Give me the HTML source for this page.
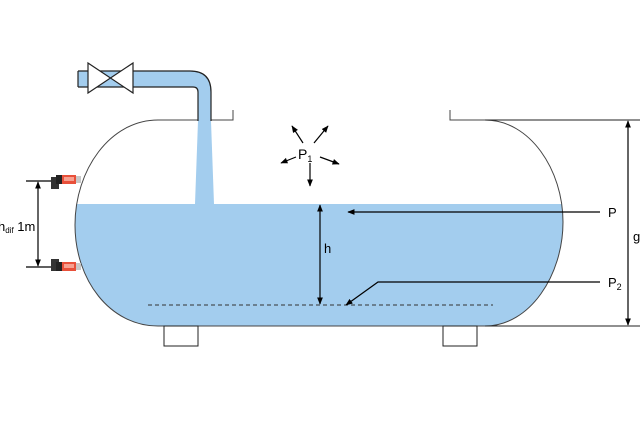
<!DOCTYPE html>
<html><head><meta charset="utf-8"><style>html,body{margin:0;padding:0;background:#fff}svg{display:block}</style></head>
<body>
<svg width="640" height="427" viewBox="0 0 640 427" xmlns="http://www.w3.org/2000/svg" font-family="'Liberation Sans',sans-serif">
<defs>
<marker id="a" viewBox="0 0 10 10" refX="9" refY="5" markerWidth="6" markerHeight="6" orient="auto-start-reverse"><path d="M0,1 L10,5 L0,9 z" fill="#000"/></marker>
<clipPath id="tk"><path d="M158,120 C110,120 75,170 75,225 C75,280 110,326 158,326 L485,326 C530,326 563,275 563,222 C563,170 530,120 485,120 Z"/></clipPath>
</defs>
<!-- water -->
<rect x="70" y="204" width="500" height="125" fill="#a3cdee" clip-path="url(#tk)"/>
<!-- stream -->
<path d="M198,121 L211,121 L214,204 L195,204 Z" fill="#a3cdee"/>
<!-- tank outline -->
<path d="M233,110 L233,120 L158,120 C110,120 75,170 75,225 C75,280 110,326 158,326 L485,326 C530,326 563,275 563,222 C563,170 530,120 485,120 L450,120 L450,110" fill="none" stroke="#444" stroke-width="1"/>
<line x1="485" y1="120" x2="640" y2="120" stroke="#222" stroke-width="1"/>
<line x1="485" y1="326" x2="640" y2="326" stroke="#222" stroke-width="1"/>
<!-- legs -->
<rect x="164" y="326" width="34" height="20" fill="#fff" stroke="#222"/>
<rect x="443" y="326" width="34" height="20" fill="#fff" stroke="#222"/>
<!-- pipe -->
<path d="M78,71 L190,71 Q211,71 211,92 L211,121 L198,121 L198,92 Q198,87 193,87 L78,87 Z" fill="#a3cdee"/>
<path d="M78,71 L78,87 M78,71 L190,71 Q211,71 211,92 L211,121 M78,87 L193,87 Q198,87 198,92 L198,121" fill="none" stroke="#222" stroke-width="1.2"/>
<path d="M88,63 L133,93 L133,63 L88,93 Z" fill="#fff" stroke="#222" stroke-width="1.2"/>
<!-- P1 -->
<text x="298" y="159" font-size="14">P<tspan font-size="9" dy="3">1</tspan></text>
<g stroke="#000" stroke-width="1.2" marker-end="url(#a)">
<line x1="303" y1="143" x2="292" y2="126"/>
<line x1="314" y1="143" x2="328" y2="126"/>
<line x1="296" y1="157" x2="281" y2="163"/>
<line x1="320" y1="157" x2="339" y2="164"/>
<line x1="310" y1="163" x2="310" y2="186"/>
</g>
<!-- dashed -->
<line x1="148" y1="305" x2="493" y2="305" stroke="#333" stroke-dasharray="4,3"/>
<!-- h -->
<line x1="320" y1="205" x2="320" y2="304" stroke="#000" stroke-width="1.2" marker-start="url(#a)" marker-end="url(#a)"/>
<text x="324" y="253" font-size="13">h</text>
<!-- P -->
<line x1="600" y1="212" x2="348" y2="212" stroke="#000" stroke-width="1.2" marker-end="url(#a)"/>
<text x="608" y="217" font-size="13">P</text>
<polyline points="600,282 378,282 346,305" fill="none" stroke="#000" stroke-width="1.2" marker-end="url(#a)"/>
<text x="608" y="287" font-size="13">P<tspan font-size="9" dy="3">2</tspan></text>
<!-- g -->
<line x1="628" y1="121" x2="628" y2="325" stroke="#000" stroke-width="1.2" marker-start="url(#a)" marker-end="url(#a)"/>
<text x="633" y="241" font-size="13">g</text>
<!-- sensors -->
<line x1="26" y1="181" x2="55" y2="181" stroke="#000" stroke-width="1.2"/>
<line x1="26" y1="267" x2="55" y2="267" stroke="#000" stroke-width="1.2"/>
<line x1="38" y1="182" x2="38" y2="266" stroke="#000" stroke-width="1.2" marker-start="url(#a)" marker-end="url(#a)"/>
<g>
<rect x="51" y="177" width="8" height="12" fill="#333"/><rect x="56" y="175" width="7" height="9" fill="#222"/>
<rect x="62" y="175" width="14" height="9" fill="#e8503a"/><rect x="64" y="177" width="10" height="4" fill="#f7a090"/>
<rect x="76" y="176" width="5" height="7" fill="#c8c8c8"/>
</g>
<g>
<rect x="51" y="259" width="8" height="12" fill="#333"/><rect x="56" y="262" width="7" height="9" fill="#222"/>
<rect x="62" y="262" width="14" height="9" fill="#e8503a"/><rect x="64" y="264" width="10" height="4" fill="#f7a090"/>
<rect x="76" y="263" width="5" height="7" fill="#c8c8c8"/>
</g>
<text x="-2" y="231" font-size="13">h<tspan font-size="8" dy="2">dif</tspan><tspan dy="-2"> 1m</tspan></text>
</svg>
</body></html>
